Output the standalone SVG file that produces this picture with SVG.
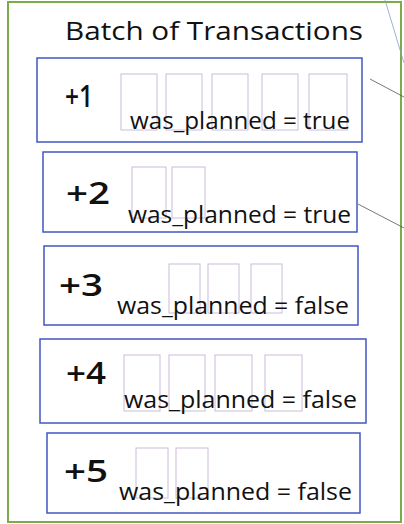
<svg xmlns="http://www.w3.org/2000/svg" width="404" height="524" viewBox="0 0 404 524">
<style>
.frame{fill:#fff;stroke:#7cab4c;stroke-width:2}
.box{fill:#fff;stroke:#4356c2;stroke-width:1.5}
.cell{fill:none;stroke:#cbbcd9;stroke-width:1}
.t{font-family:"Open Sans","Liberation Sans",sans-serif;fill:#111}
.num{font-size:31px;font-weight:600}
.lbl{font-size:23px}
.title{font-size:25px}
.conn{stroke:#555;stroke-width:0.8;fill:none}
.conn2{stroke:#8a9ad0;stroke-width:0.8;fill:none}
</style>
<rect x="0" y="0" width="404" height="524" fill="#fff"/>
<g id="frame">
<rect class="frame" x="8" y="2" width="393" height="520"/>
<text class="t title" x="65" y="40" textLength="298" lengthAdjust="spacingAndGlyphs">Batch of Transactions</text>
</g>
<g id="connectors">
<line class="conn2" x1="385" y1="0" x2="404" y2="63"/>
<line class="conn" x1="370" y1="79" x2="404" y2="97"/>
<line class="conn" x1="358" y1="204" x2="404" y2="228"/>
</g>
<g id="tx1">
<rect class="box" x="37" y="58" width="325" height="84"/>
<rect class="cell" x="121" y="74" width="36" height="56"/>
<rect class="cell" x="166" y="74" width="36" height="56"/>
<rect class="cell" x="212" y="74" width="36" height="56"/>
<rect class="cell" x="262" y="74" width="36" height="56"/>
<rect class="cell" x="309" y="74" width="38" height="56"/>
<text class="t num" x="65" y="107" textLength="28" lengthAdjust="spacingAndGlyphs">+1</text>
<text class="t lbl" x="130" y="129" textLength="220" lengthAdjust="spacingAndGlyphs">was_planned = true</text>
</g>
<g id="tx2">
<rect class="box" x="43" y="152" width="314" height="80"/>
<rect class="cell" x="132" y="167" width="34" height="51"/>
<rect class="cell" x="172" y="167" width="33" height="51"/>
<text class="t num" x="66" y="204" textLength="44" lengthAdjust="spacingAndGlyphs">+2</text>
<text class="t lbl" x="128" y="223" textLength="223" lengthAdjust="spacingAndGlyphs">was_planned = true</text>
</g>
<g id="tx3">
<rect class="box" x="44" y="246" width="314" height="79"/>
<rect class="cell" x="169" y="264" width="31" height="49"/>
<rect class="cell" x="208" y="264" width="31" height="49"/>
<rect class="cell" x="251" y="264" width="31" height="49"/>
<text class="t num" x="59" y="296" textLength="44" lengthAdjust="spacingAndGlyphs">+3</text>
<text class="t lbl" x="117" y="314" textLength="232" lengthAdjust="spacingAndGlyphs">was_planned = false</text>
</g>
<g id="tx4">
<rect class="box" x="40" y="339" width="326" height="84"/>
<rect class="cell" x="124" y="355" width="36" height="56"/>
<rect class="cell" x="169" y="355" width="36" height="56"/>
<rect class="cell" x="215" y="355" width="37" height="56"/>
<rect class="cell" x="265" y="355" width="37" height="56"/>
<text class="t num" x="66" y="384" textLength="40" lengthAdjust="spacingAndGlyphs">+4</text>
<text class="t lbl" x="124" y="408" textLength="233" lengthAdjust="spacingAndGlyphs">was_planned = false</text>
</g>
<g id="tx5">
<rect class="box" x="47" y="433" width="313" height="80"/>
<rect class="cell" x="136" y="448" width="32" height="50"/>
<rect class="cell" x="176" y="448" width="32" height="50"/>
<text class="t num" x="64" y="482" textLength="44" lengthAdjust="spacingAndGlyphs">+5</text>
<text class="t lbl" x="119" y="500" textLength="233" lengthAdjust="spacingAndGlyphs">was_planned = false</text>
</g>
</svg>
